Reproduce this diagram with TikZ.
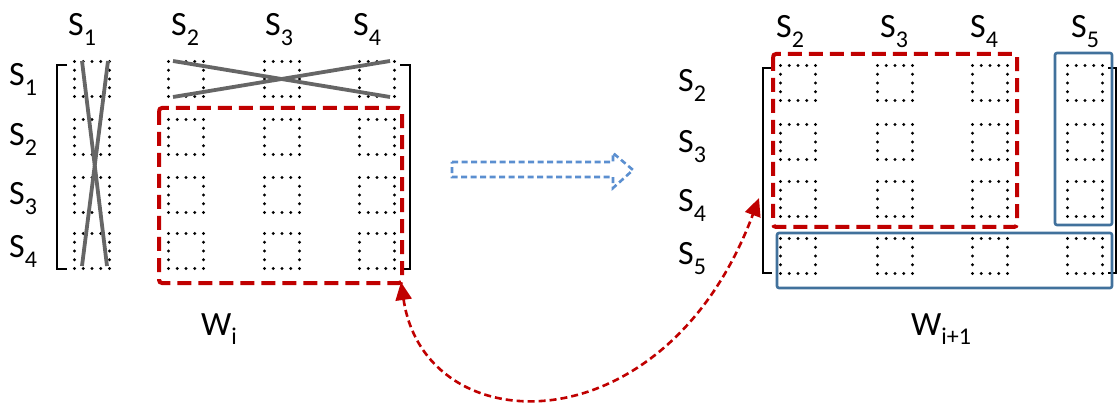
\documentclass[tikz,border=0pt]{standalone}
\usepackage{fontspec}
\setmainfont{Carlito}
\usetikzlibrary{arrows.meta}
\newcommand{\sbs}[1]{\raisebox{-0.27em}{\fontsize{24}{24}\selectfont #1}}
\definecolor{dred}{HTML}{C00000}
\definecolor{mblue}{HTML}{41719C}
\definecolor{lblue}{HTML}{5B8FD0}
\definecolor{xgray}{HTML}{666666}
\begin{document}
\begin{tikzpicture}[x=1pt,y=-1pt,
  lab/.style={anchor=base west, inner sep=0pt, font=\fontsize{34}{40}\selectfont},
  cellbox/.style={draw=black, line width=3.2pt, line cap=round, dash pattern=on 0pt off 8.75pt},
  brk/.style={draw=black, line width=2.6pt},
  cross/.style={draw=xgray, line width=3.8pt},
  redbox/.style={draw=dred, line width=4pt, dash pattern=on 14pt off 7pt, rounded corners=3pt},
  bluebox/.style={draw=mblue, line width=2.6pt, rounded corners=2pt},
  bigarrow/.style={draw=lblue, line width=2.6pt, dash pattern=on 6pt off 3.5pt},
  link/.style={draw=dred, line width=2.6pt, dash pattern=on 7pt off 4pt, {Triangle[length=18pt,width=16pt]}-{Triangle[length=18pt,width=16pt]}}
]
\useasboundingbox (0,0) rectangle (1118,403);

% ---------- left matrix W_i ----------
\foreach \cx in {92,186,282,377}{
  \foreach \cy in {79,137,195,251}{
    \draw[cellbox] (\cx-17.5,\cy-17.5) rectangle (\cx+17.5,\cy+17.5);
  }
}
\draw[brk] (67,65) -- (57,65) -- (57,269) -- (67,269);
\draw[brk] (400,65) -- (410,65) -- (410,269) -- (400,269);
\draw[cross] (82,61) -- (107,266);
\draw[cross] (108,61) -- (82,266);
\draw[cross] (173,61) -- (390,97);
\draw[cross] (173,97) -- (390,61);
\draw[redbox] (159,108) rectangle (402,283);

\node[lab] (lt1) at (68,36) {S\sbs{1}};
\node[lab] (lt2) at (171,36) {S\sbs{2}};
\node[lab] (lt3) at (265,36) {S\sbs{3}};
\node[lab] (lt4) at (353,36) {S\sbs{4}};
\node[lab] (lr1) at (9,86) {S\sbs{1}};
\node[lab] (lr2) at (9,146) {S\sbs{2}};
\node[lab] (lr3) at (9,205) {S\sbs{3}};
\node[lab] (lr4) at (9,258) {S\sbs{4}};
\node[lab] (wi) at (201,335) {W\sbs{i}};

% ---------- transition arrow ----------
\draw[bigarrow] (452,162) -- (613,162) -- (613,153) -- (633,170) -- (613,188) -- (613,177) -- (452,177) -- cycle;

% ---------- right matrix W_{i+1} ----------
\foreach \cx in {798,895,990,1085}{
  \foreach \cy in {83,142,199,256}{
    \draw[cellbox] (\cx-17.5,\cy-17.5) rectangle (\cx+17.5,\cy+17.5);
  }
}
\draw[brk] (772,68) -- (763,68) -- (763,273) -- (772,273);
\draw[brk] (1108,68) -- (1116,68) -- (1116,273) -- (1108,273);
\draw[redbox] (773,54) rectangle (1017,227);
\draw[bluebox] (1055,53) rectangle (1112,225);
\draw[bluebox] (777,233) rectangle (1112,288);

\node[lab] (rt2) at (776,38) {S\sbs{2}};
\node[lab] (rt3) at (880,38) {S\sbs{3}};
\node[lab] (rt4) at (970,38) {S\sbs{4}};
\node[lab] (rt5) at (1071,38) {S\sbs{5}};
\node[lab] (rr2) at (678,92) {S\sbs{2}};
\node[lab] (rr3) at (678,153) {S\sbs{3}};
\node[lab] (rr4) at (678,212) {S\sbs{4}};
\node[lab] (rr5) at (678,265) {S\sbs{5}};
\node[lab] (wi1) at (911,335) {W\sbs{i+1}};

% ---------- correspondence arrow ----------
\coordinate (oldblk) at (401,282);
\coordinate (newblk) at (759,198);
\draw[link] (oldblk) .. controls (425,445) and (665,450) .. (newblk);
\end{tikzpicture}
\end{document}
